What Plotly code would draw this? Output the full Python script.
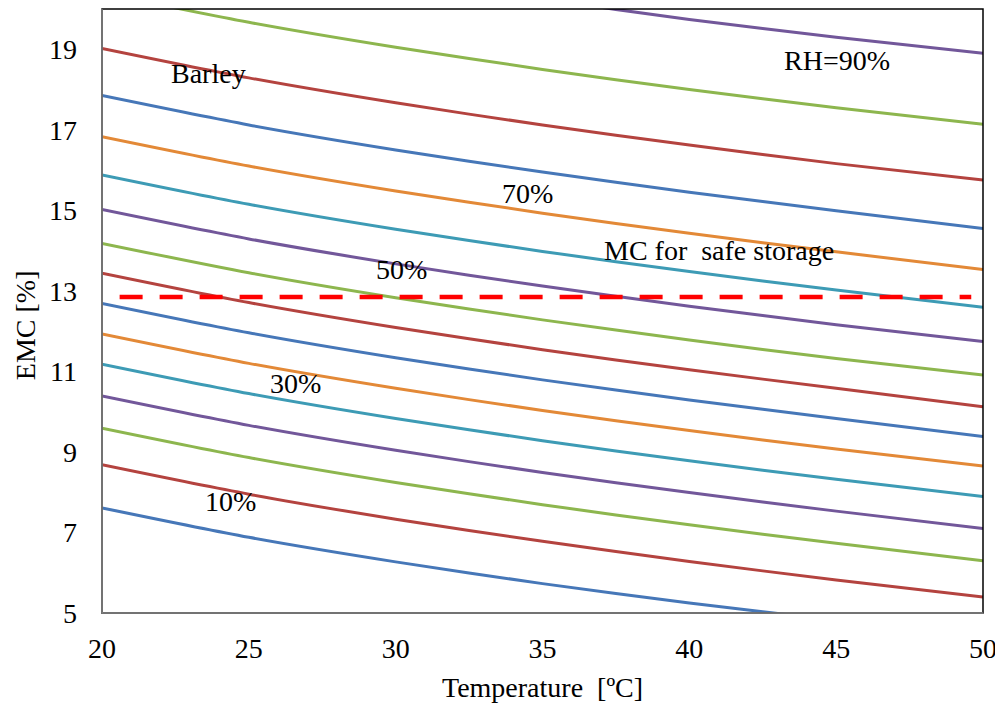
import plotly.graph_objects as go

# Temperature (°C) sample points
temperature = [20, 25, 30, 35, 40, 45, 50]

# EMC (%) curves, RH = 10% ... 85% (5% steps)
rh_labels = ["10%", "15%", "20%", "25%", "30%", "35%", "40%", "45%",
             "50%", "55%", "60%", "65%", "70%", "75%", "80%", "85%"]
emc_10 = [7.61, 6.88, 6.27, 5.73, 5.25, 4.82, 4.42]
emc_15 = [8.68, 7.95, 7.33, 6.78, 6.28, 5.82, 5.40]
emc_20 = [9.59, 8.86, 8.24, 7.69, 7.19, 6.73, 6.30]
emc_25 = [10.39, 9.66, 9.04, 8.49, 7.99, 7.53, 7.10]
emc_30 = [11.18, 10.45, 9.83, 9.28, 8.78, 8.32, 7.89]
emc_35 = [11.93, 11.20, 10.58, 10.03, 9.53, 9.07, 8.65]
emc_40 = [12.69, 11.96, 11.34, 10.79, 10.29, 9.83, 9.38]
emc_45 = [13.44, 12.71, 12.09, 11.54, 11.04, 10.58, 10.12]
emc_50 = [14.18, 13.45, 12.83, 12.28, 11.78, 11.32, 10.91]
emc_55 = [15.02, 14.29, 13.67, 13.12, 12.62, 12.16, 11.74]
emc_60 = [15.88, 15.15, 14.53, 13.98, 13.48, 13.02, 12.59]
emc_65 = [16.83, 16.10, 15.48, 14.93, 14.43, 13.97, 13.53]
emc_70 = [17.85, 17.12, 16.50, 15.95, 15.45, 14.99, 14.55]
emc_75 = [19.02, 18.29, 17.67, 17.12, 16.62, 16.16, 15.75]
emc_80 = [20.40, 19.67, 19.05, 18.50, 18.00, 17.55, 17.14]
emc_85 = [22.15, 21.42, 20.80, 20.25, 19.74, 19.30, 18.90]

# Safe-storage moisture content line
safe_x = [20.6, 49.6]
safe_y = [12.85, 12.85]

# Text labels
label_texts = ["Barley", "RH=90%", "70%", "MC for  safe storage", "50%", "30%", "10%"]
label_x = [23.63, 45.03, 34.5, 41.0, 30.2, 26.59, 24.38]
label_y = [18.41, 18.73, 15.43, 14.01, 13.52, 10.71, 7.76]

x_ticks = [20, 25, 30, 35, 40, 45, 50]
y_ticks = [5, 7, 9, 11, 13, 15, 17, 19]

series = [emc_10, emc_15, emc_20, emc_25, emc_30, emc_35, emc_40, emc_45,
          emc_50, emc_55, emc_60, emc_65, emc_70, emc_75, emc_80, emc_85]
palette = ["#4677B8", "#B4433F", "#8DB64E", "#72579A", "#3D9BB5", "#E38937"]

FONT = "Liberation Serif"
FS = 28

fig = go.Figure()
for i, (lab, ys) in enumerate(zip(rh_labels, series)):
    fig.add_trace(go.Scatter(
        x=temperature, y=ys, mode="lines", name="RH " + lab,
        line=dict(color=palette[i % len(palette)], width=3, shape="spline", smoothing=0.8),
        showlegend=False,
    ))

fig.add_trace(go.Scatter(
    x=safe_x, y=safe_y, mode="lines", name="MC for safe storage",
    line=dict(color="#FF0000", width=4.5, dash="23px,17px"),
    showlegend=False,
))

for t, xx, yy in zip(label_texts, label_x, label_y):
    fig.add_annotation(x=xx, y=yy, text=t, showarrow=False,
                       xanchor="center", yanchor="middle",
                       font=dict(family=FONT, size=FS, color="black"))

fig.add_annotation(xref="paper", yref="paper", x=-0.086, y=0.477, text="EMC [%]",
                   textangle=-90, showarrow=False, xanchor="center", yanchor="middle",
                   font=dict(family=FONT, size=FS, color="black"))
fig.add_annotation(xref="paper", yref="paper", x=0.5, y=-0.124, text="Temperature  [ºC]",
                   showarrow=False, xanchor="center", yanchor="middle",
                   font=dict(family=FONT, size=FS, color="black"))

# frame: black top/right, gray left/bottom
fig.add_shape(type="rect", xref="paper", yref="paper", x0=0, x1=1, y0=0, y1=1,
              line=dict(color="black", width=1.5), layer="above")
fig.add_shape(type="line", xref="paper", yref="paper", x0=0, x1=0, y0=0, y1=1,
              line=dict(color="#868686", width=1.5), layer="above")
fig.add_shape(type="line", xref="paper", yref="paper", x0=0, x1=1, y0=0, y1=0,
              line=dict(color="#868686", width=1.5), layer="above")

fig.update_xaxes(range=[20, 50], tickvals=x_ticks, showgrid=False, zeroline=False,
                 showline=False, ticks="", ticklabelstandoff=16,
                 tickfont=dict(family=FONT, size=FS, color="black"))
fig.update_yaxes(range=[5, 20], tickvals=y_ticks, showgrid=False, zeroline=False,
                 showline=False, ticks="", ticklabelstandoff=24,
                 tickfont=dict(family=FONT, size=FS, color="black"))

# page body has an 8px margin; compensate so the plot area lands at
# x 102..983, y 9..613 of the window
fig.update_layout(
    width=1003, height=707,
    margin=dict(l=94, r=28, t=1, b=102),
    plot_bgcolor="white", paper_bgcolor="white",
)

fig.write_html("out.html")
